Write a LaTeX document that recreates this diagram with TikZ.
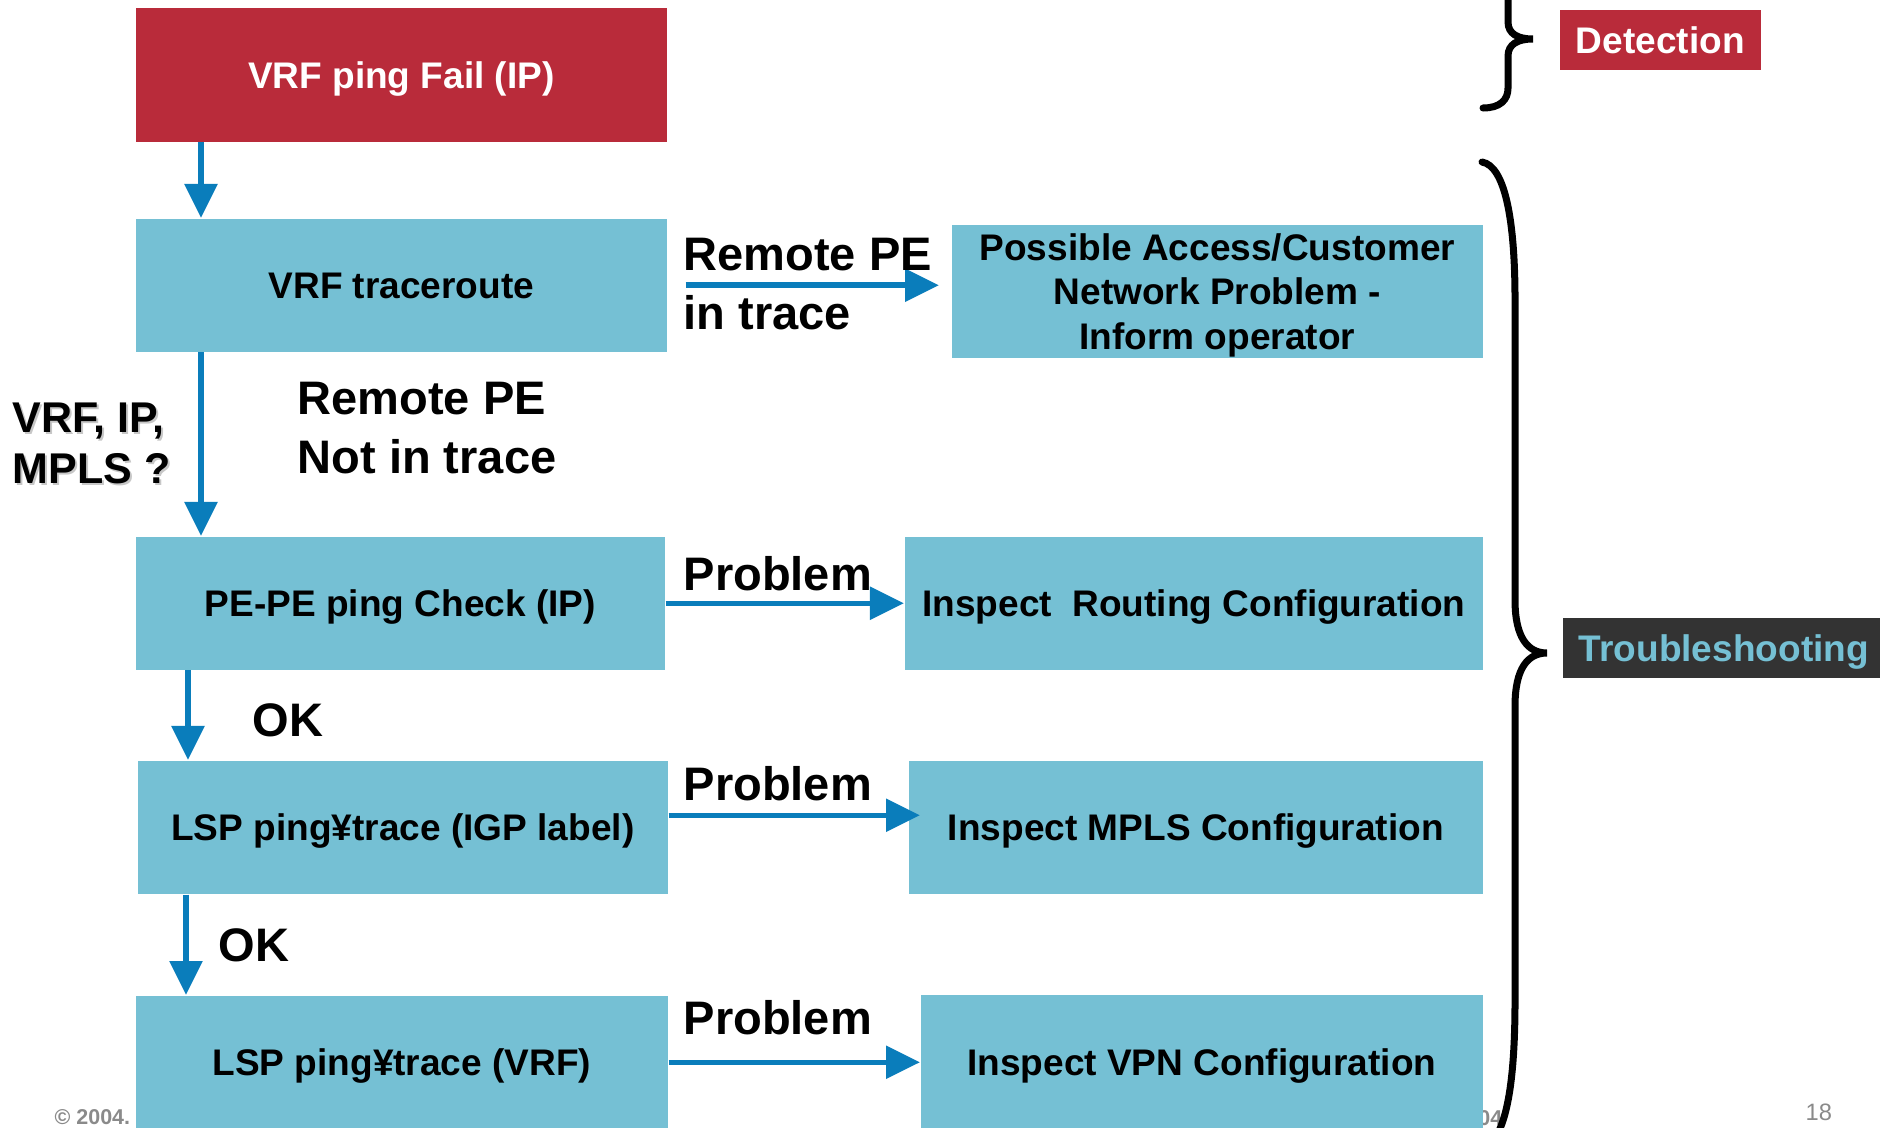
\documentclass[tikz,border=0pt]{standalone}
\usepackage{fontspec}
\setmainfont{Liberation Sans}
\usetikzlibrary{arrows.meta,calc}

\definecolor{failred}{HTML}{B92B3A}
\definecolor{stepcyan}{HTML}{75C0D4}
\definecolor{flowblue}{HTML}{0A7DBB}
\definecolor{tagdark}{HTML}{333333}
\definecolor{footgray}{HTML}{8A8A8A}

\tikzset{
  stepbox/.style={fill=stepcyan, draw=none, inner sep=0pt, anchor=north west,
    align=center, text=black, font=\bfseries\fontsize{10.53}{12.6}\selectfont},
  % single-line boxes: centre the capitals in the box
  oneline/.style={text height=7.6pt, text depth=0pt},
  flow/.style={draw=flowblue, line width=0.055cm,
    -{Triangle[width=0.32cm,length=0.34cm]}},
  lbl/.style={inner sep=0pt, anchor=base west, font=\bfseries\fontsize{13.37}{16.8}\selectfont},
  sidelbl/.style={inner sep=0pt, anchor=base west, align=left,
    font=\bfseries\fontsize{12.23}{14.5}\selectfont},
  brace/.style={draw=black, line width=0.07cm, line cap=round},
  tag/.style={inner sep=0pt, anchor=north west, text height=7.6pt, text depth=0pt,
    font=\bfseries\fontsize{10.53}{12.6}\selectfont},
}

\begin{document}
\begin{tikzpicture}[x=0.01cm, y=-0.01cm]
  \useasboundingbox (0,0) rectangle (1880,1127);
  \clip (0,0) rectangle (1880,1127);

  % footer texts (partly covered by the boxes)
  \node[inner sep=0pt, anchor=base west, text=footgray,
        font=\bfseries\fontsize{6.1}{7}\selectfont] (copyl) at (54,1124) {© 2004.};
  \node[inner sep=0pt, anchor=base east, text=footgray,
        font=\bfseries\fontsize{6.1}{7}\selectfont] (copyr) at (1503,1125) {2004};
  \node[inner sep=0pt, anchor=base west, text=footgray,
        font=\fontsize{6.74}{8}\selectfont] (pagenum) at (1805,1120) {18};

  % left column
  \node[stepbox, oneline, fill=failred, text=white, minimum width=5.31cm, minimum height=1.34cm]
    (fail) at (135,7) {VRF ping Fail (IP)};
  \node[stepbox, oneline, minimum width=5.31cm, minimum height=1.33cm]
    (trace) at (135,218) {VRF traceroute};
  \node[stepbox, oneline, minimum width=5.29cm, minimum height=1.33cm]
    (pepe) at (135,536) {PE-PE ping Check (IP)};
  \node[stepbox, oneline, minimum width=5.30cm, minimum height=1.33cm]
    (igp) at (137,760) {LSP ping¥trace (IGP label)};
  \node[stepbox, oneline, minimum width=5.32cm, minimum height=1.33cm]
    (lspvrf) at (135,995) {LSP ping¥trace (VRF)};

  % right column
  \node[stepbox, minimum width=5.31cm, minimum height=1.33cm]
    (access) at (951,224) {\rule{0pt}{10pt}Possible Access/Customer\\Network Problem -\\Inform operator};
  \node[stepbox, oneline, minimum width=5.78cm, minimum height=1.33cm]
    (routing) at (904,536) {Inspect\ \ Routing Configuration};
  \node[stepbox, oneline, minimum width=5.74cm, minimum height=1.33cm]
    (mpls) at (908,760) {Inspect MPLS Configuration};
  \node[stepbox, oneline, minimum width=5.62cm, minimum height=1.34cm]
    (vpn) at (920,994) {Inspect VPN Configuration};

  % phase tags
  \node[tag, fill=failred, text=white, minimum width=2.01cm, minimum height=0.60cm]
    (detect) at (1559,9) {Detection};
  \node[tag, fill=tagdark, text=stepcyan, minimum width=3.22cm, minimum height=0.60cm]
    (trouble) at (1562,617) {Troubleshooting};

  % vertical flow
  \draw[flow] ($(fail.south west)+(66,0)$) -- ($(trace.north west)+(66,0)$);
  \draw[flow] ($(trace.south west)+(66,0)$) -- ($(pepe.north west)+(66,0)$);
  \draw[flow] ($(pepe.south west)+(53,0)$) -- ($(igp.north west)+(51,0)$);
  \draw[flow] ($(igp.south west)+(49,0)$) -- ($(lspvrf.north west)+(51,0)$);

  % horizontal flow
  \draw[flow] ($(trace.east)+(18,0)$) -- ($(trace.east -| access.west)+(-12,0)$);
  \draw[flow] (pepe.east) -- (pepe.east -| routing.west);
  \draw[flow] ($(igp.east)+(0,-12)$) -- ($(igp.east -| mpls.west)+(12,-12)$);
  \draw[flow] (lspvrf.east) -- (lspvrf.east -| vpn.west);

  % connector labels
  \node[lbl] (rpe1) at (683,270) {Remote PE};
  \node[lbl] (rpe2) at (683,329) {in trace};
  \node[lbl] (nrpe1) at (297,414) {Remote PE};
  \node[lbl] (nrpe2) at (297,473) {Not in trace};
  \node[lbl] (prob1) at (683,590) {Problem};
  \node[lbl] (prob2) at (683,800) {Problem};
  \node[lbl] (prob3) at (683,1034) {Problem};
  \node[lbl] (ok1) at (252,736) {OK};
  \node[lbl] (ok2) at (218,961) {OK};

  % side question with its soft shadow (anchored at the last line's baseline)
  \node[sidelbl, text=black!22] (askshadow) at (14,485) {VRF, IP,\\MPLS ?};
  \node[sidelbl] (ask) at (12,483) {VRF, IP,\\MPLS ?};

  % braces
  \draw[brace] (1483,-30) .. controls (1500,-30) and (1508,-20) .. (1508,-5)
    -- (1508,22) .. controls (1508,34) and (1518,39) .. (1533,39)
    .. controls (1518,39) and (1508,44) .. (1508,56)
    -- (1508,88) .. controls (1508,100) and (1500,108) .. (1483,108);
  \draw[brace] (1482,162) .. controls (1505,166) and (1515,220) .. (1515,300)
    -- (1515,600) .. controls (1515,638) and (1528,653) .. (1547,653)
    .. controls (1528,653) and (1515,668) .. (1515,706)
    -- (1515,1000) .. controls (1515,1090) and (1505,1140) .. (1482,1150);
\end{tikzpicture}
\end{document}
